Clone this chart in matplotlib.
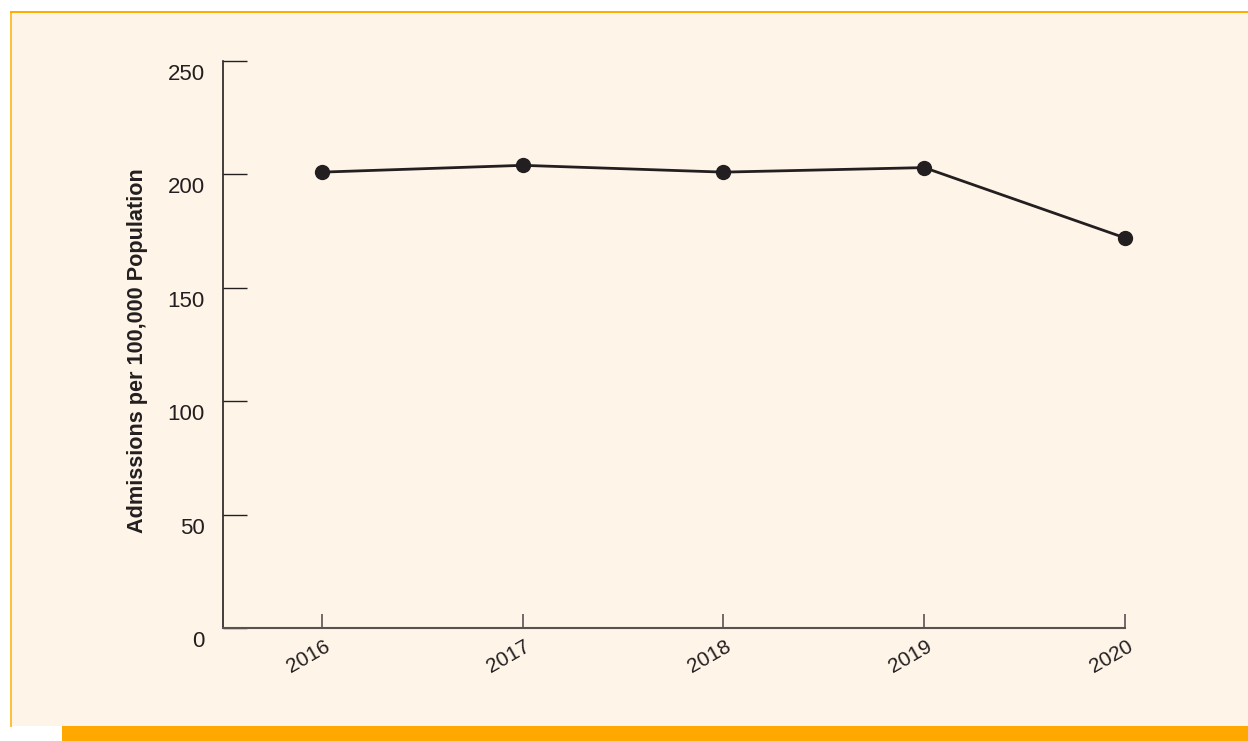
import matplotlib
matplotlib.use("Agg")
import matplotlib.pyplot as plt
from matplotlib.patches import Rectangle
from matplotlib.transforms import ScaledTranslation

years = [2016, 2017, 2018, 2019, 2020]
admissions = [201, 204, 201, 203, 172]
yticks = [0, 50, 100, 150, 200, 250]
ylabel = "Admissions per 100,000 Population"

plt.rcParams['font.family'] = ['Liberation Sans', 'DejaVu Sans']

W, H = 1248, 741
fig = plt.figure(figsize=(W / 100, H / 100), dpi=100)
fig.patch.set_facecolor('white')

# background panel
fig.patches.append(Rectangle((11 / W, 1 - 726 / H), (W - 11) / W, (726 - 12) / H,
                             transform=fig.transFigure, facecolor='#FEF4E8',
                             edgecolor='none', zorder=-3))
# left border
fig.patches.append(Rectangle((10 / W, 1 - 727 / H), 2 / W, (727 - 11) / H,
                             transform=fig.transFigure, facecolor='#FFC040',
                             edgecolor='none', zorder=-2))
# top border
fig.patches.append(Rectangle((10 / W, 1 - 13 / H), (W - 10) / W, 2 / H,
                             transform=fig.transFigure, facecolor='#FFAD00',
                             edgecolor='none', zorder=-2))
# bottom bar
fig.patches.append(Rectangle((62 / W, 0), (W - 62) / W, 15 / H,
                             transform=fig.transFigure, facecolor='#FFA800',
                             edgecolor='none', zorder=-2))

left, right = 223 / W, 1125 / W
bottom, top = 1 - 628 / H, 1 - 61 / H
ax = fig.add_axes([left, bottom, right - left, top - bottom])
ax.set_facecolor('none')
ax.set_zorder(5)

ax.plot(years, admissions, color='#231F20', lw=2.0, marker='o', markersize=10,
        markerfacecolor='#231F20', markeredgecolor='#231F20', zorder=3,
        clip_on=False)

ax.set_xlim(2015.507, 2020)
ax.set_ylim(0, 250)
ax.set_xticks(years)
ax.set_xticklabels([str(y) for y in years])
ax.set_yticks(yticks)
ax.set_yticklabels([str(v) for v in yticks])

for s in ['top', 'right']:
    ax.spines[s].set_visible(False)
ax.spines['left'].set_color('#231F20')
ax.spines['left'].set_linewidth(1.2)
ax.spines['bottom'].set_color('#5A5252')
ax.spines['bottom'].set_linewidth(1.5)

ax.tick_params(axis='y', direction='in', length=17.5, width=1.0, color='#231F20',
               labelsize=16, labelcolor='#231F20', pad=13)
ax.tick_params(axis='x', direction='in', length=10, width=1.2, color='#5A5252',
               labelsize=15, labelcolor='#231F20', pad=6)

off_y = ScaledTranslation(0, -0.11, fig.dpi_scale_trans)
for lab in ax.get_yticklabels():
    lab.set_transform(lab.get_transform() + off_y)

off_x = ScaledTranslation(0.015, 0, fig.dpi_scale_trans)
for lab in ax.get_xticklabels():
    lab.set_rotation(30)
    lab.set_ha('right')
    lab.set_va('top')
    lab.set_rotation_mode('anchor')
    lab.set_transform(lab.get_transform() + off_x)

ax.set_ylabel(ylabel, fontsize=15.6, fontweight='bold', color='#231F20')
ax.yaxis.set_label_coords(-(223 - 148) / (1125 - 223), 0.4885)

fig.savefig('out.png', dpi=100, facecolor=fig.get_facecolor())
